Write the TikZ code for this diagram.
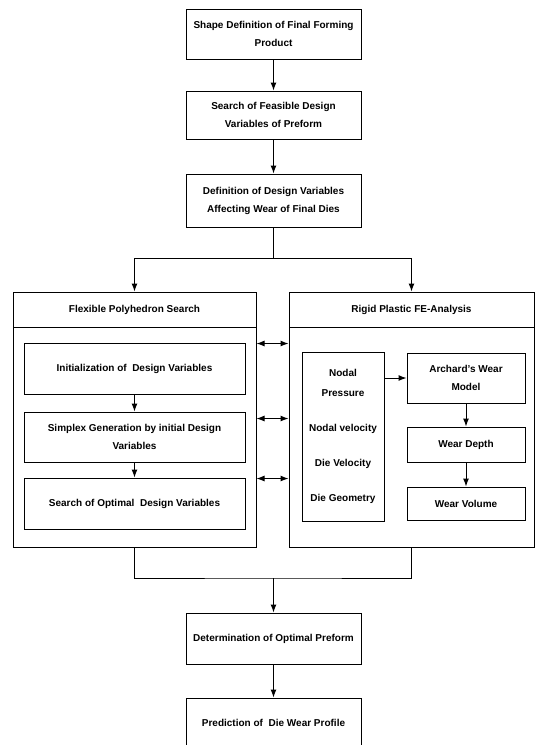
\documentclass[tikz,border=0pt]{standalone}
\usepackage{fontspec}
\setmainfont{Liberation Sans}
\usetikzlibrary{positioning, arrows.meta}
\tikzset{>={Latex[length=8pt,width=6pt]},
         box/.style={draw,align=center,inner sep=2pt,font=\bfseries\fontsize{10}{18}\selectfont},
         frame/.style={draw,minimum width=243pt,minimum height=255pt},
         band/.style={box,minimum width=243pt,minimum height=35pt},
        }

\begin{document}
\begin{tikzpicture}[x=1pt,y=-1pt,line width=1pt]
        \useasboundingbox(0,0)rectangle(540,745);
        \clip(0,0)rectangle(540,745);
        \node[box,minimum width=175pt,minimum height=50pt](shape)at(273.5,34){Shape Definition of Final Forming\\Product};
        \node[box,minimum width=175pt,minimum height=48pt](feas)at(273.5,115){Search of Feasible Design\\Variables of Preform};
        \node[box,minimum width=175pt,minimum height=53pt](defn)at(273.5,200.5){Definition of Design Variables\\Affecting Wear of Final Dies};
        \draw[->](shape)--(feas);
        \draw[->](feas)--(defn);

        \node[frame](fps)at(134.5,419.5){};
        \node[band,anchor=north](fpst)at(fps.north){Flexible Polyhedron Search};
        \node[frame,minimum width=245pt](rpa)at(411.5,419.5){};
        \node[band,minimum width=245pt,anchor=north](rpat)at(rpa.north){Rigid Plastic FE-Analysis};
        \coordinate(split)at(273.5,258);
        \draw(defn)--(split);
        \draw[->](split)-|(fpst.north);
        \draw[->](split)-|(rpat.north);

        \node[box,minimum width=221pt,minimum height=51pt](init)at(134.5,368.5){Initialization of\ \ Design Variables};
        \node[box,minimum width=221pt,minimum height=50pt](simp)at(134.5,437){Simplex Generation by initial Design\\Variables};
        \node[box,minimum width=221pt,minimum height=51pt](srch)at(134.5,503.5){Search of Optimal\ \ Design Variables};
        \draw[->](init)--(simp);
        \draw[->](simp)--(srch);
        \foreach \d in {52,127,187}
            \draw[<->]([yshift=-\d pt]fps.north east)--([yshift=-\d pt]rpa.north west);

        \node[box,minimum width=82pt,minimum height=169pt,font=\bfseries\fontsize{10}{20}\selectfont](nodal)at(343,436.5){Nodal\\Pressure\\[15pt]Nodal velocity\\[15pt]Die Velocity\\[15pt]Die Geometry};
        \node[box,minimum width=118pt,minimum height=50pt](arch)at(466,378){Archard's Wear\\Model};
        \node[box,minimum width=118pt,minimum height=35pt](depth)at(466,444.5){Wear Depth};
        \node[box,minimum width=118pt,minimum height=33pt](vol)at(466,503.5){Wear Volume};
        \draw[->](arch.west-|nodal.east)--(arch.west);
        \draw[->](arch)--(depth);
        \draw[->](depth)--(vol);

        \coordinate(merge)at(273.5,578);
        \node[box,minimum width=175pt,minimum height=51pt](det)at(273.5,638.5){Determination of Optimal Preform};
        \node[box,minimum width=175pt,minimum height=49pt](pred)at(273.5,722.5){Prediction of\ \ Die Wear Profile};
        \draw(fps.south)|-(merge)-|(rpa.south);
        \draw[->](merge)--(det);
        \draw[->](det)--(pred);
    \end{tikzpicture}
\end{document}
